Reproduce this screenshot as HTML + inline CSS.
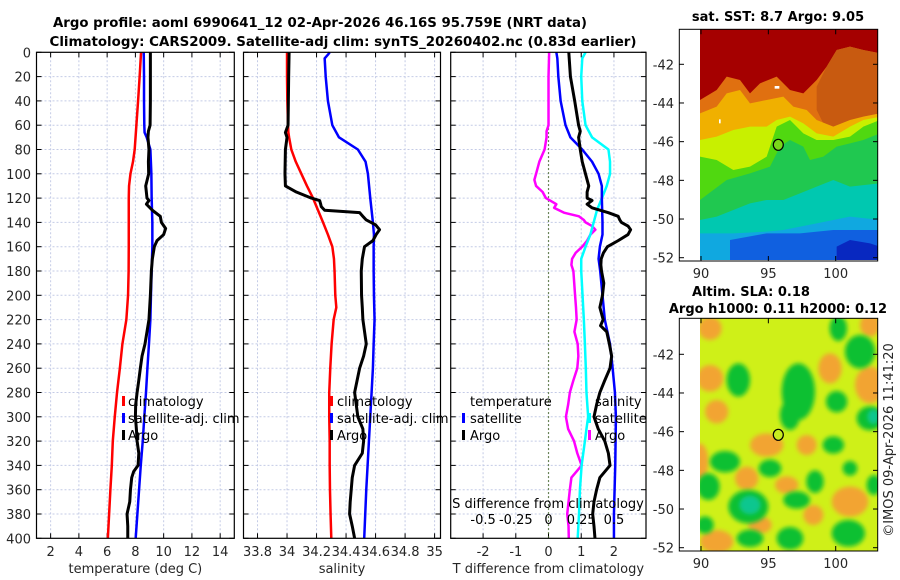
<!DOCTYPE html>
<html><head><meta charset="utf-8">
<style>
html,body{margin:0;padding:0;background:#fff;}
svg{display:block;font-family:"DejaVu Sans","Liberation Sans",sans-serif;}
</style></head>
<body>
<svg id="fig" width="900" height="580" viewBox="0 0 900 580" xmlns="http://www.w3.org/2000/svg">
<defs>
<clipPath id="sstclip"><rect x="150" y="88" width="533" height="692"/></clipPath>
<clipPath id="slaclip"><rect x="150" y="100" width="533" height="698"/></clipPath>
<filter id="blur6" x="-50%" y="-50%" width="200%" height="200%"><feGaussianBlur stdDeviation="6"/></filter>
</defs>
<text x="320" y="27" text-anchor="middle" font-weight="bold" font-size="13" textLength="534" lengthAdjust="spacingAndGlyphs">Argo profile: aoml 6990641_12 02-Apr-2026 46.16S 95.759E (NRT data)</text>
<text x="343" y="46" text-anchor="middle" font-weight="bold" font-size="13" textLength="587" lengthAdjust="spacingAndGlyphs">Climatology: CARS2009. Satellite-adj clim: synTS_20260402.nc (0.83d earlier)</text>

<!-- SST map -->
<g>
<text x="778" y="21" text-anchor="middle" font-weight="bold" font-size="13">sat. SST: 8.7 Argo: 9.05</text>
<g transform="translate(650,0) scale(0.33333)" clip-path="url(#sstclip)">
<rect x="150" y="88" width="533" height="692" fill="#a50000"/>
<polygon fill="#e07010" points="150,300 200,270 230,230 270,240 300,280 330,250 380,230 420,270 460,280 500,240 530,200 560,150 600,140 640,150 690,160 690,800 150,800"/>
<polygon fill="#c85a10" points="530,200 560,150 600,140 640,150 690,160 690,340 640,350 600,370 560,390 520,370 500,330 500,260"/>
<polygon fill="#f0b000" points="150,340 200,320 230,280 270,270 300,310 350,300 400,290 430,320 470,330 500,360 550,380 600,360 640,350 690,340 690,800 150,800"/>
<polygon fill="#c8f000" points="150,420 200,410 250,390 300,380 350,380 380,360 420,350 460,370 500,400 550,410 600,380 640,360 690,350 690,800 150,800"/>
<polygon fill="#50d810" points="150,470 200,480 250,510 300,500 350,470 380,380 420,360 460,400 500,420 550,420 600,410 640,380 690,360 690,800 150,800"/>
<polygon fill="#20c850" points="230,540 300,520 360,500 390,440 420,420 460,440 480,480 520,470 560,440 600,430 640,420 690,400 690,800 150,800 150,600"/>
<polygon fill="#00c8b0" points="150,660 200,650 250,630 300,610 350,600 400,600 450,580 500,560 550,540 600,560 690,550 690,800 150,800"/>
<polygon fill="#10a8e0" points="150,700 250,700 350,695 400,690 500,670 600,650 690,660 690,800 150,800"/>
<polygon fill="#1060e0" points="240,720 350,700 450,700 550,690 600,690 690,690 690,800 240,800"/>
<polygon fill="#0828c0" points="560,740 600,720 660,730 690,740 690,800 560,800"/>
<rect x="374" y="258" width="14" height="8" fill="#fff"/>
<rect x="207" y="358" width="5" height="12" fill="#fff"/>
</g>
<rect x="679.3" y="29.3" width="198.4" height="231.7" fill="none" stroke="#000" stroke-width="1"/>
<ellipse cx="778.3" cy="144.8" rx="5" ry="5.5" fill="#7ad81a" stroke="#000" stroke-width="1.2"/>
</g>

<!-- SLA map -->
<g>
<text x="751" y="296" text-anchor="middle" font-weight="bold" font-size="13">Altim. SLA: 0.18</text>
<text x="778" y="313" text-anchor="middle" font-weight="bold" font-size="13">Argo h1000: 0.11 h2000: 0.12</text>
<g transform="translate(650,285) scale(0.33333)" clip-path="url(#slaclip)">
<rect x="150" y="100" width="533" height="698" fill="#cff018"/>
<g filter="url(#blur6)" fill="#f2a430">
<ellipse cx="180" cy="280" rx="40" ry="40"/><ellipse cx="540" cy="250" rx="35" ry="45"/>
<ellipse cx="660" cy="300" rx="45" ry="55"/><ellipse cx="200" cy="380" rx="35" ry="35"/>
<ellipse cx="350" cy="480" rx="50" ry="35"/><ellipse cx="150" cy="530" rx="25" ry="55"/>
<ellipse cx="470" cy="480" rx="30" ry="30"/><ellipse cx="290" cy="580" rx="35" ry="35"/>
<ellipse cx="410" cy="600" rx="35" ry="26"/><ellipse cx="600" cy="650" rx="55" ry="45"/>
<ellipse cx="330" cy="720" rx="35" ry="26"/><ellipse cx="200" cy="770" rx="50" ry="35"/>
<ellipse cx="490" cy="690" rx="30" ry="30"/><ellipse cx="660" cy="120" rx="30" ry="35"/>
<ellipse cx="180" cy="130" rx="35" ry="35"/>
</g>
<g filter="url(#blur6)" fill="#08c030">
<ellipse cx="265" cy="285" rx="35" ry="50"/><ellipse cx="445" cy="320" rx="50" ry="85"/>
<ellipse cx="420" cy="390" rx="30" ry="45"/><ellipse cx="560" cy="350" rx="32" ry="32"/>
<ellipse cx="630" cy="200" rx="45" ry="50"/><ellipse cx="565" cy="130" rx="26" ry="38"/>
<ellipse cx="660" cy="400" rx="40" ry="36"/><ellipse cx="550" cy="480" rx="32" ry="26"/>
<ellipse cx="225" cy="530" rx="45" ry="32"/><ellipse cx="175" cy="605" rx="34" ry="40"/>
<ellipse cx="360" cy="550" rx="34" ry="26"/><ellipse cx="295" cy="665" rx="60" ry="50"/>
<ellipse cx="440" cy="645" rx="40" ry="26"/><ellipse cx="495" cy="590" rx="26" ry="34"/>
<ellipse cx="165" cy="720" rx="26" ry="26"/><ellipse cx="300" cy="760" rx="40" ry="26"/>
<ellipse cx="420" cy="760" rx="40" ry="34"/><ellipse cx="595" cy="745" rx="50" ry="40"/>
<ellipse cx="600" cy="550" rx="22" ry="22"/><ellipse cx="672" cy="600" rx="22" ry="30"/>
</g>
<g filter="url(#blur6)" fill="#10c8a0" opacity="0.85">
<ellipse cx="300" cy="660" rx="32" ry="28"/><ellipse cx="670" cy="395" rx="18" ry="22"/>
</g>
</g>
<rect x="679.3" y="318.3" width="198.4" height="232.7" fill="none" stroke="#000" stroke-width="1"/>
<ellipse cx="778.3" cy="434.8" rx="5" ry="5.5" fill="#c8ec20" stroke="#000" stroke-width="1.2"/>
<text transform="translate(893,440) rotate(-90)" text-anchor="middle" font-size="13" fill="#262626">©IMOS 09-Apr-2026 11:41:20</text>
</g>
<g id="dyn"></g>
</svg>
<script>
// ---------- data ----------
var depthTicks = [0,20,40,60,80,100,120,140,160,180,200,220,240,260,280,300,320,340,360,380,400];
var tempTicks = [2,4,6,8,10,12,14];
var salTicks = [33.8,34,34.2,34.4,34.6,34.8,35];
var salTickLabels = ["33.8","34","34.2","34.4","34.6","34.8","35"];
var tdiffTicks = [-2,-1,0,1,2];
var sdiffTicks = [-0.5,-0.25,0,0.25,0.5];
var sdiffTickLabels = ["-0.5","-0.25","0","0.25","0.5"];

var tClimDepth = [0,20,40,60,80,90,100,110,120,140,160,180,200,220,240,260,280,300,320,340,360,380,400];
var tClim = [8.4,8.3,8.19,8.07,7.95,7.83,7.65,7.55,7.53,7.53,7.53,7.52,7.48,7.36,7.08,6.9,6.7,6.54,6.4,6.33,6.23,6.14,6.05];
var tSatDepth = [0,20,40,60,66,70,80,100,120,140,160,180,200,220,240,260,280,300,320,340,360,380,400];
var tSat = [8.59,8.61,8.61,8.63,8.65,8.8,9.06,9.13,9.15,9.2,9.2,9.15,9.1,9.06,8.96,8.85,8.75,8.63,8.52,8.38,8.26,8.14,8.02];
var tArgoDepth = [0,20,40,60,65,70,80,90,100,110,120,122,125,130,135,140,145,150,155,160,170,180,200,220,230,240,250,260,270,280,290,300,310,320,330,340,345,350,360,370,380,390,400];
var tArgo = [9.06,9.06,9.06,9.04,8.92,8.89,8.96,8.92,8.94,8.73,8.82,8.96,8.78,9.2,9.76,9.84,10.14,10.0,9.53,9.34,9.2,9.13,9.06,8.96,8.82,8.68,8.47,8.35,8.24,8.12,8.02,8.0,8.07,8.12,8.24,8.19,7.88,7.74,7.65,7.6,7.41,7.46,7.46];

var sClimDepth = [0,20,40,60,66,70,80,90,100,110,120,130,140,150,160,170,180,200,210,220,240,260,280,300,320,340,360,380,400];
var sClim = [34.0,34.0,34.002,34.007,34.009,34.014,34.029,34.059,34.097,34.135,34.176,34.21,34.244,34.277,34.307,34.318,34.322,34.327,34.334,34.316,34.302,34.293,34.286,34.286,34.289,34.289,34.291,34.295,34.3];
var sSatDepth = [0,2,5,20,40,60,70,80,90,100,120,140,150,160,180,200,220,240,260,280,300,320,340,360,380,400];
var sSat = [34.289,34.277,34.255,34.262,34.277,34.307,34.352,34.48,34.532,34.548,34.564,34.582,34.589,34.587,34.587,34.589,34.593,34.587,34.582,34.573,34.564,34.555,34.546,34.537,34.53,34.523];
var sArgoDepth = [0,20,40,60,66,70,80,100,110,115,120,122,125,127,130,132,135,138,142,146,150,155,160,170,180,200,210,220,240,250,260,280,300,310,320,330,340,350,360,370,380,390,400];
var sArgo = [34.014,34.011,34.009,34.007,33.989,34.0,33.989,33.986,33.989,34.063,34.165,34.221,34.228,34.232,34.255,34.492,34.514,34.537,34.6,34.627,34.604,34.582,34.525,34.51,34.503,34.505,34.51,34.514,34.537,34.519,34.492,34.458,34.48,34.514,34.519,34.51,34.458,34.442,34.435,34.428,34.424,34.442,34.458];

var dTArgoDepth = [0,20,40,60,65,70,80,90,100,110,115,120,122,125,128,132,135,138,140,143,146,150,155,160,165,170,175,180,190,200,210,220,225,230,240,250,260,270,280,290,300,310,320,330,340,350,360,370,380,390,400];
var dTArgo = [0.62,0.67,0.8,0.92,0.97,0.92,0.97,1.03,1.13,1.23,1.18,1.18,1.33,1.18,1.33,1.83,2.13,2.18,2.23,2.43,2.51,2.43,2.13,1.8,1.68,1.61,1.6,1.62,1.69,1.65,1.57,1.67,1.59,1.78,1.86,1.93,1.88,1.72,1.57,1.47,1.39,1.52,1.72,1.83,1.88,1.57,1.47,1.39,1.35,1.39,1.42];
var dTSatDepth = [0,5,20,40,60,70,80,90,100,110,120,140,150,160,170,180,200,220,240,260,280,300,320,340,360,380,400];
var dTSat = [0.24,0.27,0.3,0.37,0.52,0.67,1.03,1.33,1.53,1.63,1.63,1.65,1.65,1.57,1.53,1.58,1.65,1.72,1.88,1.96,2.03,2.06,2.05,2.04,2.02,2.0,2.0];
var dSArgoDepth = [0,20,40,60,65,70,80,90,100,105,110,115,120,125,128,132,135,138,140,143,146,150,155,160,165,170,175,180,200,210,220,230,240,250,260,270,280,290,300,310,320,330,340,350,360,370,380,390,400];
var dSArgo = [0.005,0,0,0,-0.015,-0.015,-0.03,-0.07,-0.095,-0.108,-0.095,-0.045,-0.02,0.06,0.043,0.118,0.233,0.27,0.283,0.333,0.358,0.32,0.295,0.258,0.208,0.18,0.175,0.19,0.203,0.21,0.215,0.198,0.223,0.228,0.22,0.19,0.163,0.15,0.133,0.15,0.195,0.22,0.253,0.175,0.163,0.153,0.143,0.153,0.155];
var dSSatDepth = [0,5,20,40,60,70,80,90,100,110,120,130,140,150,160,170,180,200,220,240,260,280,300,310,320,340,360,380,400];
var dSSat = [0.283,0.258,0.25,0.258,0.283,0.333,0.458,0.47,0.47,0.445,0.408,0.37,0.345,0.32,0.283,0.25,0.25,0.26,0.27,0.278,0.285,0.29,0.303,0.29,0.278,0.253,0.24,0.233,0.223];

var mapLatTicks = [-42,-44,-46,-48,-50,-52];
var mapLonTicks = [90,95,100];

// ---------- helpers ----------
var NS = "http://www.w3.org/2000/svg";
var root = document.getElementById('dyn');
function mk(tag, attrs, parent) {
  var e = document.createElementNS(NS, tag);
  for (var k in attrs) e.setAttribute(k, attrs[k]);
  (parent || root).appendChild(e);
  return e;
}
var Y0 = 52.3, Y1 = 538.3;
function yD(d) { return Y0 + (d / 400) * (Y1 - Y0); }
function scaleX(x0, x1, v0, v1) { return function (v) { return x0 + (v - v0) / (v1 - v0) * (x1 - x0); }; }

var panels = [
  {name:'temperature', x0:36.5, x1:234.3, fx:scaleX(36.5,234.3,1,15), ticks:tempTicks, labels:tempTicks.map(String), title:'temperature (deg C)'},
  {name:'salinity', x0:243.5, x1:440.5, fx:scaleX(243.5,440.5,33.705,35.04), ticks:salTicks, labels:salTickLabels, title:'salinity'},
  {name:'difference', x0:450.7, x1:646, fx:scaleX(450.7,646,-2.99,2.98), ticks:tdiffTicks, labels:tdiffTicks.map(String), title:'T difference from climatology'}
];

panels.forEach(function (p, pi) {
  var g = mk('g', {});
  
  
  depthTicks.forEach(function (d) {
    if (d === 0 || d === 400) return;
    var l = mk('line', {x1:p.x0, x2:p.x1, y1:yD(d), y2:yD(d), stroke:'#c4cbe6', 'stroke-width':1, 'stroke-dasharray':'2,2'}, g);
    
    
  });
  p.ticks.forEach(function (v, i) {
    var x = p.fx(v);
    var l = mk('line', {x1:x, x2:x, y1:Y0, y2:Y1, stroke:'#c4cbe6', 'stroke-width':1, 'stroke-dasharray':'2,2'}, g);
    
    
    mk('line', {x1:x, x2:x, y1:Y1, y2:Y1-5, stroke:'#000'}, g);
    mk('line', {x1:x, x2:x, y1:Y0, y2:Y0+5, stroke:'#000'}, g);
    var t = mk('text', {x:x, y:556, 'text-anchor':'middle', 'font-size':13, fill:'#262626'}, g);
    
    
    t.textContent = p.labels[i];
  });
  depthTicks.forEach(function (d) {
    mk('line', {x1:p.x0, x2:p.x0+5, y1:yD(d), y2:yD(d), stroke:'#000'}, g);
    mk('line', {x1:p.x1, x2:p.x1-5, y1:yD(d), y2:yD(d), stroke:'#000'}, g);
    if (pi === 0) {
      var t = mk('text', {x:31, y:yD(d)+5, 'text-anchor':'end', 'font-size':13, fill:'#262626'}, g);
      
      
      t.textContent = String(d);
    }
  });
  var at = mk('text', {x:(p.x0+p.x1)/2, y:573, 'text-anchor':'middle', 'font-size':13, fill:'#262626'}, g);
  
  
  at.textContent = p.title;
  p.g = g;
});

function drawLine(p, fx, depths, vals, color, w, nm) {
  var pts = depths.map(function (d, i) { return fx(vals[i]).toFixed(2) + ',' + yD(d).toFixed(2); }).join(' ');
  var l = mk('polyline', {points:pts, fill:'none', stroke:color, 'stroke-width':w, 'stroke-linejoin':'round'}, p.g);
  
  
}
var P1 = panels[0], P2 = panels[1], P3 = panels[2];
drawLine(P1, P1.fx, tClimDepth, tClim, '#ff0000', 2.5, 'temp-climatology-line');
drawLine(P1, P1.fx, tSatDepth, tSat, '#0000ff', 2.5, 'temp-satellite-adj-line');
drawLine(P1, P1.fx, tArgoDepth, tArgo, '#000000', 3, 'temp-argo-line');
drawLine(P2, P2.fx, sClimDepth, sClim, '#ff0000', 2.5, 'sal-climatology-line');
drawLine(P2, P2.fx, sSatDepth, sSat, '#0000ff', 2.5, 'sal-satellite-adj-line');
drawLine(P2, P2.fx, sArgoDepth, sArgo, '#000000', 3, 'sal-argo-line');
var zl = mk('line', {x1:P3.fx(0), x2:P3.fx(0), y1:Y0, y2:Y1, stroke:'#4a6a2a', 'stroke-width':1.2, 'stroke-dasharray':'1.5,2.5'}, P3.g);


function sfx(s) { return P3.fx(s * 4); }
drawLine(P3, sfx, dSArgoDepth, dSArgo, '#ff00ff', 2.5, 'sdiff-argo-line');
drawLine(P3, sfx, dSSatDepth, dSSat, '#00ffff', 2.5, 'sdiff-satellite-line');
drawLine(P3, P3.fx, dTSatDepth, dTSat, '#0000ff', 2.5, 'tdiff-satellite-line');
drawLine(P3, P3.fx, dTArgoDepth, dTArgo, '#000000', 3, 'tdiff-argo-line');

panels.forEach(function (p) {
  var r = mk('rect', {x:p.x0, y:Y0, width:p.x1-p.x0, height:Y1-Y0, fill:'none', stroke:'#000', 'stroke-width':1.2}, p.g);
  
  
});

var st = mk('text', {x:548, y:508, 'text-anchor':'middle', 'font-size':13, fill:'#000'}, P3.g);


st.textContent = 'S difference from climatology';
sdiffTicks.forEach(function (s, i) {
  var t = mk('text', {x:sfx(s), y:524, 'text-anchor':'middle', 'font-size':13, fill:'#000'}, P3.g);
  
  
  t.textContent = sdiffTickLabels[i];
});

function legItem(g, bx, tx, y, color, label, nm) {
  if (color) mk('rect', {x:bx, y:y-10, width:3, height:10, fill:color}, g);
  var t = mk('text', {x:tx, y:y, 'font-size':13, fill:'#000'}, g);
  
  
  t.textContent = label;
}
var lg1 = mk('g', {});


legItem(lg1, 122, 128, 406, '#ff0000', 'climatology', 'legend-entry');
legItem(lg1, 122, 128, 423, '#0000ff', 'satellite-adj. clim', 'legend-entry');
legItem(lg1, 122, 128, 440, '#000000', 'Argo', 'legend-entry');
var lg2 = mk('g', {});


legItem(lg2, 330, 337, 406, '#ff0000', 'climatology', 'legend-entry');
legItem(lg2, 330, 337, 423, '#0000ff', 'satellite-adj. clim', 'legend-entry');
legItem(lg2, 330, 337, 440, '#000000', 'Argo', 'legend-entry');
var lg3 = mk('g', {});


legItem(lg3, 0, 470, 406, null, 'temperature', 'legend-heading');
legItem(lg3, 462, 470, 423, '#0000ff', 'satellite', 'legend-entry');
legItem(lg3, 462, 470, 440, '#000000', 'Argo', 'legend-entry');
legItem(lg3, 0, 595, 406, null, 'salinity', 'legend-heading');
legItem(lg3, 588, 595, 423, '#00ffff', 'satellite', 'legend-entry');
legItem(lg3, 588, 595, 440, '#ff00ff', 'Argo', 'legend-entry');

function mapAxes(top, bottom, latY0, nm) {
  var g = mk('g', {});
  
  
  mapLatTicks.forEach(function (lat) {
    var y = latY0 + (-42 - lat) * 19.34;
    mk('line', {x1:679.3, x2:684, y1:y, y2:y, stroke:'#000'}, g);
    mk('line', {x1:877.7, x2:873, y1:y, y2:y, stroke:'#000'}, g);
    var t = mk('text', {x:674, y:y+5, 'text-anchor':'end', 'font-size':13, fill:'#262626'}, g);
    
    
    t.textContent = String(lat);
  });
  mapLonTicks.forEach(function (lon) {
    var x = 701 + (lon - 90) * 13.47;
    mk('line', {x1:x, x2:x, y1:bottom, y2:bottom-5, stroke:'#000'}, g);
    mk('line', {x1:x, x2:x, y1:top, y2:top+5, stroke:'#000'}, g);
    var t = mk('text', {x:x, y:bottom+17, 'text-anchor':'middle', 'font-size':13, fill:'#262626'}, g);
    
    
    t.textContent = String(lon);
  });
}
mapAxes(29.3, 261, 64.3, 'sst-map-axes');
mapAxes(318.3, 551, 354.3, 'sla-map-axes');
</script>
</body></html>
